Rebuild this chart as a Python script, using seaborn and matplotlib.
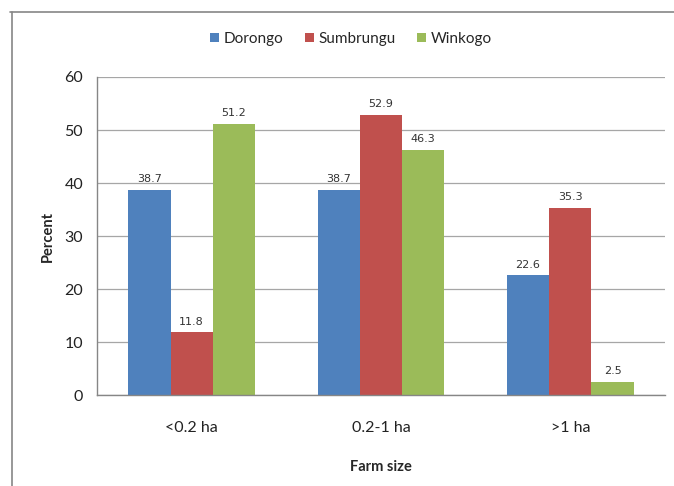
import matplotlib
matplotlib.use("Agg")
import matplotlib.pyplot as plt
from matplotlib.lines import Line2D
from matplotlib.patches import Patch
import seaborn as sns
import pandas as pd

farm_sizes = ["<0.2 ha", "0.2-1 ha", ">1 ha"]
communities = ["Dorongo", "Sumbrungu", "Winkogo"]
dorongo = [38.7, 38.7, 22.6]
sumbrungu = [11.8, 52.9, 35.3]
winkogo = [51.2, 46.3, 2.5]
colors = ["#4F81BD", "#C0504D", "#9BBB59"]

rows = []
for name, vals in zip(communities, [dorongo, sumbrungu, winkogo]):
    for size, v in zip(farm_sizes, vals):
        rows.append({"Farm size": size, "Community": name, "Percent": v})
df = pd.DataFrame(rows)

sns.set_style("white")
plt.rcParams["font.family"] = ["Lato", "DejaVu Sans"]

fig = plt.figure(figsize=(6.74, 4.86), dpi=100)
ax = fig.add_axes([97 / 674, 1 - 395 / 486, (665 - 97) / 674, (395 - 77) / 486])

sns.barplot(data=df, x="Farm size", y="Percent", hue="Community",
            order=farm_sizes, hue_order=communities, palette=colors,
            width=0.67, saturation=1, errorbar=None, ax=ax, legend=False,
            edgecolor="none")

for cont in ax.containers:
    ax.bar_label(cont, fmt="%.1f", padding=4, fontsize=8, color="#333333",
                 family=["DejaVu Sans"])

ax.set_xlim(-0.5, 2.5)
ax.set_ylim(0, 60)
ax.set_yticks(range(0, 61, 10))
ax.yaxis.grid(True, color="#A6A6A6", linewidth=0.9)
ax.set_axisbelow(True)
ax.set_xticks([0, 1, 2])
ax.set_xticklabels(farm_sizes)
ax.set_xticks([0.5, 1.5, 2.5], minor=True)
ax.tick_params(axis="x", which="major", length=0, pad=19, labelsize=11.5, colors="#222222")
ax.tick_params(axis="x", which="minor", length=5, color="#868686", direction="out")
ax.tick_params(axis="y", length=5, color="#868686", direction="out", labelsize=11.5,
               labelcolor="#222222", pad=5)
for side in ["top", "right"]:
    ax.spines[side].set_visible(False)
for side in ["left", "bottom"]:
    ax.spines[side].set_color("#868686")
    ax.spines[side].set_linewidth(1.0)

ax.set_xlabel("Farm size", fontsize=10.5, fontweight="bold", labelpad=18)
ax.set_ylabel("Percent", fontsize=10.5, fontweight="bold", labelpad=7)

handles = [Patch(facecolor=c, edgecolor="none") for c in colors]
fig.legend(handles, communities, loc="center", bbox_to_anchor=(351 / 674, 1 - 39 / 486),
           ncol=3, frameon=False, fontsize=11, handlelength=0.6, handleheight=0.6,
           handletextpad=0.3, columnspacing=1.4)

# chart area frame
fig.add_artist(Line2D([10 / 674, 1], [1 - 12 / 486, 1 - 12 / 486],
                      transform=fig.transFigure, color="#868686", linewidth=1.2))
fig.add_artist(Line2D([12 / 674, 12 / 674], [0, 1 - 12 / 486],
                      transform=fig.transFigure, color="#868686", linewidth=1.2))

fig.savefig("out.png", dpi=100)
